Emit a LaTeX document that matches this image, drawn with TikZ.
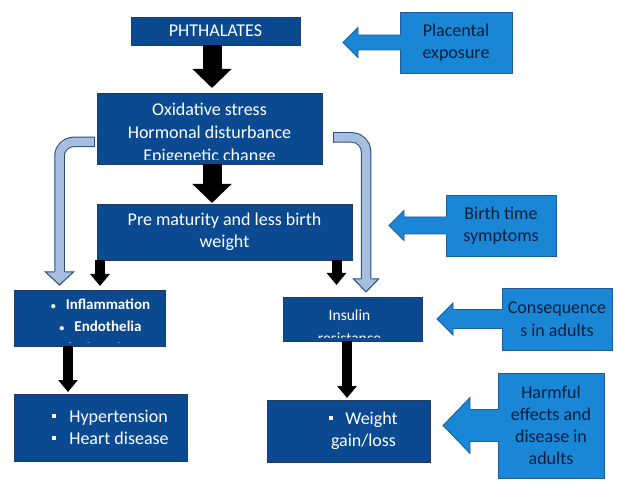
\documentclass[tikz,border=0pt]{standalone}
\usepackage{fontspec}
\setmainfont{Carlito}
\usetikzlibrary{arrows.meta}

\definecolor{boxdark}{HTML}{0B4A91}
\definecolor{boxdarkedge}{HTML}{1F3B66}
\definecolor{boxlight}{HTML}{1A86D6}
\definecolor{boxlightedge}{HTML}{1F5C99}
\definecolor{lighttext}{HTML}{0A1F3D}
\definecolor{bendfill}{HTML}{A7BFDE}
\definecolor{bendedge}{HTML}{2B4A7C}

\newcommand{\boxfont}{\fontsize{18}{22.5}\selectfont}
\newcommand{\sqbul}{\raisebox{0.25em}{\rule{4pt}{4pt}}}
\newcommand{\rdbul}{{\fontsize{10}{10}\selectfont\textbullet}}

% left pointing block arrow: base point, length, shaft half, head half, head length
\newcommand{\leftblock}[5]{%
  \filldraw[sidearrow] (#1) ++(0,-#3) -- ++({-(#2-#5)},0) -- ++(0,{-(#4-#3)})
    -- ++({-#5},#4) -- ++(#5,#4) -- ++(0,{-(#4-#3)}) -- ++({#2-#5},0);}

\tikzset{
  darkbox/.style={draw=boxdarkedge, fill=boxdark, line width=0.8pt, anchor=north west,
    inner sep=0pt, outer sep=0pt, text=white, align=center, font=\boxfont},
  lightbox/.style={draw=boxlightedge, fill=boxlight, line width=0.8pt, anchor=north west,
    inner sep=0pt, outer sep=0pt, text=lighttext, align=center, font=\boxfont},
  boxline/.style={anchor=base, inner sep=0pt, text=white, font=\boxfont},
  bigarrow/.style={line width=19pt, -{Triangle[width=38pt,length=19pt]}},
  blkarrow/.style={line width=10pt, -{Triangle[width=19pt,length=12pt]}},
  sidearrow/.style={draw=boxlightedge, fill=boxlight, line width=0.8pt, line join=miter},
  bendarrow/.style={draw=bendedge, line width=1pt, double=bendfill, double distance=8.5pt,
    rounded corners=14pt},
  bendhead/.style={draw=bendedge, fill=bendfill, line width=1pt, line join=miter},
}

\begin{document}
\begin{tikzpicture}[x=1pt,y=-1pt]
\useasboundingbox (0,0) rectangle (619,481);

% boxes
\node[darkbox, minimum width=169pt, minimum height=28pt] (phth) at (131,17) {PHTHALATES};
\node[lightbox, minimum width=112pt, minimum height=61pt] (plac) at (400,12) {Placental\\exposure};
\node[darkbox, minimum width=225pt, minimum height=71pt,
  path picture={
    \clip (path picture bounding box.north west) rectangle ([yshift=4pt]path picture bounding box.south east);
    \node[boxline] (oxidA) at ([yshift=-23pt]path picture bounding box.north) {Oxidative stress};
    \node[boxline] (oxidB) at ([yshift=-46pt]path picture bounding box.north) {Hormonal disturbance};
    \node[boxline] (oxidC) at ([yshift=-69pt]path picture bounding box.north) {Epigenetic change};
  }] (oxid) at (97,93) {};
\node[darkbox, minimum width=255pt, minimum height=56pt] (premat) at (97,204) {Pre maturity and less birth\\weight};
\node[lightbox, minimum width=110pt, minimum height=61pt] (birth) at (446,195) {Birth time\\symptoms};
\node[darkbox, minimum width=151pt, minimum height=56pt,
  path picture={
    \clip (path picture bounding box.north west) rectangle ([yshift=3pt]path picture bounding box.south east);
    \node[boxline, font=\fontsize{15}{18}\bfseries] (inflA) at ([xshift=11pt,yshift=-19pt]path picture bounding box.north) {\rdbul\hspace{10pt}Inflammation};
    \node[boxline, font=\fontsize{15}{18}\bfseries] (inflB) at ([xshift=11pt,yshift=-41pt]path picture bounding box.north) {\rdbul\hspace{10pt}Endothelia};
    \node[boxline, font=\fontsize{15}{18}\bfseries] (inflC) at ([xshift=11pt,yshift=-63pt]path picture bounding box.north) {dysfunction};
  }] (infl) at (14,290) {};
\node[darkbox, minimum width=139pt, minimum height=44pt,
  path picture={
    \clip (path picture bounding box.north west) rectangle ([yshift=3pt]path picture bounding box.south east);
    \node[boxline, font=\fontsize{15.5}{19}\selectfont] (insulA) at ([xshift=-3pt,yshift=-24pt]path picture bounding box.north) {Insulin};
    \node[boxline, font=\fontsize{15.5}{19}\selectfont] (insulB) at ([xshift=-3pt,yshift=-46pt]path picture bounding box.north) {resistance};
  }] (insul) at (283,297) {};
\node[lightbox, minimum width=110pt, minimum height=62pt] (conseq) at (502,288) {Consequence\\s in adults};
\node[darkbox, minimum width=173pt, minimum height=67pt] (hyper) at (14,394) {};
\node[text=white, font=\boxfont, align=left, inner sep=0pt] (hypertext) at ([xshift=10pt]hyper.center)
  {\sqbul\hspace{13pt}Hypertension\\\sqbul\hspace{13pt}Heart disease};
\node[darkbox, minimum width=163pt, minimum height=62pt] (weight) at (267,400) {};
\node[text=white, font=\boxfont, align=center, inner sep=0pt] (weighttext) at ([xshift=15pt]weight.center)
  {\sqbul\hspace{12pt}Weight\\gain/loss};
\node[lightbox, minimum width=106pt, minimum height=105pt, font=\fontsize{18}{22}\selectfont] (harm) at (498,373)
  {Harmful\\effects and\\disease in\\adults};

% black arrows
\draw[bigarrow, shorten >=5pt] ([xshift=-3.5pt]phth.south) -- ([xshift=-3.5pt]phth.south |- oxid.north);
\draw[bigarrow, shorten >=1pt] ([xshift=2.5pt]oxid.south) -- ([xshift=2.5pt]oxid.south |- premat.north);
\draw[blkarrow, shorten >=4pt] ([xshift=3pt]premat.south west) -- ([xshift=3pt]premat.south west |- infl.north);
\draw[blkarrow, shorten >=12pt] ([xshift=-15.5pt]premat.south east) -- ([xshift=-15.5pt]premat.south east |- insul.north);
\draw[blkarrow, shorten >=2pt] ([xshift=-21.5pt]infl.south) -- ([xshift=-21.5pt]infl.south |- hyper.north);
\draw[blkarrow, shorten >=2pt] ([xshift=-5.5pt]insul.south) -- ([xshift=-5.5pt]insul.south |- weight.north);

% bent arrows
\coordinate (lefthead) at (59.5,272);
\coordinate (lefttip) at (59.5,285);
\coordinate (righthead) at (366,279);
\coordinate (righttip) at (366,292);
\draw[bendarrow] ([xshift=-3pt,yshift=-49pt]oxid.north west) -| (lefthead);
\draw[bendedge, line width=1pt] ([xshift=-3pt,yshift=-43.75pt]oxid.north west) -- ++(0,10.5);
\filldraw[bendhead] ([xshift=-5.25pt]lefthead) -- ([xshift=-14pt]lefthead) -- (lefttip)
  -- ([xshift=14pt]lefthead) -- ([xshift=5.25pt]lefthead);
\draw[bendarrow] ([xshift=11pt,yshift=-44.5pt]oxid.north east) -| (righthead);
\draw[bendedge, line width=1pt] ([xshift=11pt,yshift=-39.25pt]oxid.north east) -- ++(0,10.5);
\filldraw[bendhead] ([xshift=-5.25pt]righthead) -- ([xshift=-12.5pt]righthead) -- (righttip)
  -- ([xshift=12.5pt]righthead) -- ([xshift=5.25pt]righthead);

% side arrows
\leftblock{[xshift=1pt]plac.west}{58}{7.5}{15}{15}
\leftblock{[xshift=1pt]birth.west}{58}{8.5}{15}{15}
\leftblock{[xshift=1pt]conseq.west}{66}{9.5}{16}{16}
\leftblock{[xshift=1pt]harm.west}{56}{16}{28}{27}
\end{tikzpicture}
\end{document}
